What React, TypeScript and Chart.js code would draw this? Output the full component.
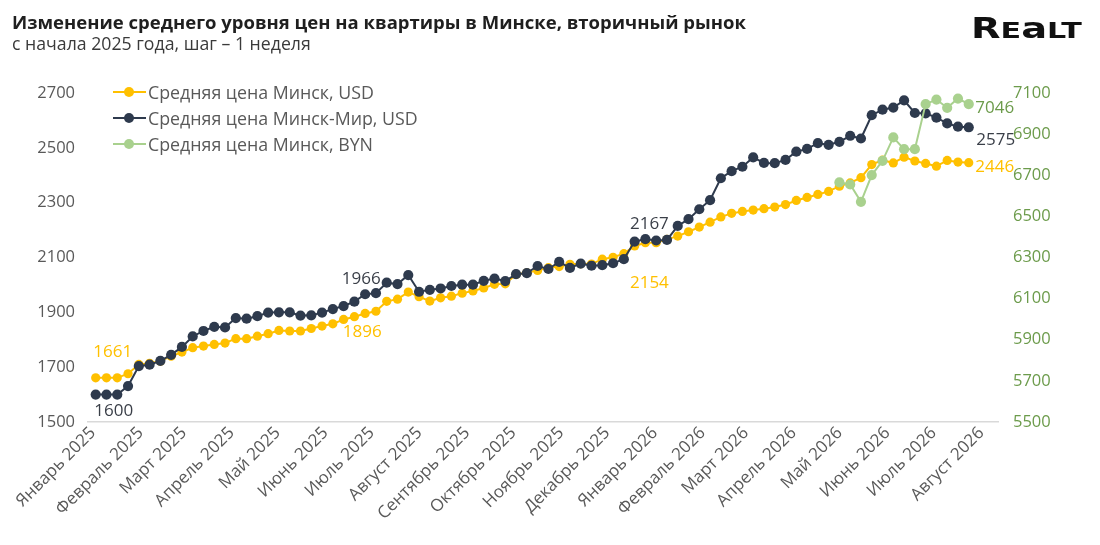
import { useEffect, useRef } from "react";
import { Chart, registerables } from "chart.js";

Chart.register(...registerables);

// Month captions on the date axis (first day of each month)
const MONTHS = [
  "Январь 2025", "Февраль 2025", "Март 2025", "Апрель 2025", "Май 2025", "Июнь 2025",
  "Июль 2025", "Август 2025", "Сентябрь 2025", "Октябрь 2025", "Ноябрь 2025", "Декабрь 2025",
  "Январь 2026", "Февраль 2026", "Март 2026", "Апрель 2026", "Май 2026", "Июнь 2026",
  "Июль 2026", "Август 2026",
];

// Weekly average price, Minsk, USD per m²
const USD_MINSK = [
  1661, 1661, 1661, 1676, 1710, 1714, 1722, 1740, 1755, 1771,
  1777, 1783, 1788, 1804, 1804, 1813, 1822, 1834, 1832, 1832,
  1841, 1850, 1858, 1874, 1884, 1896, 1904, 1940, 1948, 1974,
  1957, 1941, 1953, 1959, 1970, 1978, 1989, 2002, 2004, 2038,
  2044, 2053, 2063, 2067, 2075, 2077, 2076, 2094, 2101, 2114,
  2142, 2154, 2154, 2166, 2178, 2194, 2211, 2229, 2248, 2261,
  2268, 2273, 2278, 2284, 2293, 2308, 2319, 2330, 2341, 2360,
  2372, 2391, 2439, 2455, 2445, 2466, 2452, 2443, 2433, 2454,
  2448, 2446,
];

// Weekly average price, Minsk-Mir, USD per m²
const USD_MINSK_MIR = [
  1600, 1600, 1600, 1631, 1704, 1709, 1723, 1745, 1774, 1812,
  1832, 1847, 1845, 1879, 1877, 1886, 1899, 1900, 1900, 1888,
  1889, 1899, 1912, 1923, 1939, 1966, 1970, 2008, 2003, 2036,
  1975, 1982, 1987, 1996, 2001, 2001, 2015, 2023, 2014, 2039,
  2043, 2069, 2058, 2084, 2062, 2078, 2070, 2072, 2079, 2094,
  2158, 2167, 2162, 2164, 2215, 2240, 2276, 2309, 2389, 2415,
  2431, 2465, 2445, 2444, 2456, 2486, 2496, 2517, 2511, 2522,
  2544, 2534, 2619, 2639, 2647, 2673, 2627, 2626, 2610, 2589,
  2577, 2575,
];

// Weekly average price, Minsk, BYN per m² (published for the last weeks only)
const BYN_MINSK = [
  null, null, null, null, null, null, null, null, null, null,
  null, null, null, null, null, null, null, null, null, null,
  null, null, null, null, null, null, null, null, null, null,
  null, null, null, null, null, null, null, null, null, null,
  null, null, null, null, null, null, null, null, null, null,
  null, null, null, null, null, null, null, null, null, null,
  null, null, null, null, null, null, null, null, null, 6665,
  6655, 6571, 6701, 6770, 6884, 6827, 6827, 7046, 7068, 7028,
  7073, 7046,
];

const SERIES_NAMES = [
  "Средняя цена Минск, USD",
  "Средняя цена Минск-Мир, USD",
  "Средняя цена Минск, BYN",
];

const COLORS = ["#FFC000", "#2E3A4D", "#A9D18E"];
const LABEL_COLORS = ["#FFC000", "#3A3F48", "#6C9B4B"];
const FONT = '"Open Sans", "Noto Sans", sans-serif';
const AXIS_GRAY = "#595959";

export default function App() {
  const canvasRef = useRef<HTMLCanvasElement | null>(null);

  useEffect(() => {
    document.body.style.margin = "0";
    const canvas = canvasRef.current;
    if (!canvas) return;

    const DAY = 86400000;
    const origin = Date.UTC(2025, 0, 1);
    const firstWeek = Date.UTC(2025, 0, 6);
    const weekDay = (i: number) => (firstWeek - origin) / DAY + 7 * i;
    const monthDays = MONTHS.map((_, k) => (Date.UTC(2025, k, 1) - origin) / DAY);

    const toPoints = (arr: (number | null)[]) =>
      arr.map((v, i) => ({ x: weekDay(i), y: v }));

    const last = USD_MINSK.length - 1;
    // dataset index, point index, offset of the caption from the point
    const captions = [
      { ds: 0, idx: 0, dx: 17, dy: -26 },
      { ds: 1, idx: 0, dx: 18, dy: 17 },
      { ds: 0, idx: 25, dx: -3, dy: 19 },
      { ds: 1, idx: 25, dx: -4, dy: -15 },
      { ds: 0, idx: 51, dx: 4, dy: 40 },
      { ds: 1, idx: 51, dx: 4, dy: -15 },
      { ds: 0, idx: last, dx: 26, dy: 5 },
      { ds: 1, idx: last, dx: 27, dy: 13 },
      { ds: 2, idx: last, dx: 26, dy: 4 },
    ];

    const valueCaptions = {
      id: "valueCaptions",
      afterDatasetsDraw(chart: any) {
        const ctx = chart.ctx;
        ctx.save();
        ctx.font = `17px ${FONT}`;
        ctx.textAlign = "center";
        ctx.textBaseline = "middle";
        for (const c of captions) {
          const el = chart.getDatasetMeta(c.ds).data[c.idx];
          const v = (chart.data.datasets[c.ds].data[c.idx] as any).y;
          ctx.fillStyle = LABEL_COLORS[c.ds];
          ctx.fillText(String(v), el.x + c.dx, el.y + c.dy);
        }
        ctx.restore();
      },
    };

    const mk = (i: number, data: (number | null)[], axis: string, order: number, r: number) => ({
      label: SERIES_NAMES[i],
      data: toPoints(data),
      yAxisID: axis,
      borderColor: COLORS[i],
      backgroundColor: COLORS[i],
      pointBackgroundColor: COLORS[i],
      pointBorderWidth: 0,
      pointRadius: r,
      borderWidth: 2,
      order,
      clip: false as const,
      spanGaps: false,
    });

    const plain = (v: any) => String(v);

    const chart = new Chart(canvas, {
      type: "line",
      data: {
        datasets: [
          mk(0, USD_MINSK, "y", 2, 4.6),
          mk(1, USD_MINSK_MIR, "y", 1, 5.1),
          mk(2, BYN_MINSK, "y1", 0, 5.1),
        ],
      },
      options: {
        animation: false,
        responsive: false,
        layout: { padding: { top: 93, left: 0, right: 0, bottom: 0 } },
        plugins: { legend: { display: false }, tooltip: { enabled: false } },
        scales: {
          x: {
            type: "linear",
            min: 0,
            max: 591,
            afterBuildTicks: (s: any) => {
              s.ticks = monthDays.map((v) => ({ value: v }));
            },
            afterFit: (s: any) => {
              s.height = 123;
            },
            grid: { display: false, drawTicks: false },
            border: { display: true, color: "#D9D9D9", width: 1.5 },
            ticks: {
              autoSkip: false,
              maxRotation: 45,
              minRotation: 45,
              padding: 1,
              labelOffset: 5,
              color: AXIS_GRAY,
              font: { family: FONT, size: 17 },
              callback: (_v: any, i: number) => MONTHS[i],
            },
          },
          y: {
            position: "left",
            min: 1500,
            max: 2700,
            afterFit: (s: any) => {
              s.width = 88;
            },
            grid: { display: false, drawTicks: false },
            border: { display: false },
            ticks: {
              stepSize: 200,
              padding: 13,
              color: AXIS_GRAY,
              font: { family: FONT, size: 16.5 },
              callback: plain,
            },
          },
          y1: {
            position: "right",
            min: 5500,
            max: 7100,
            afterFit: (s: any) => {
              s.width = 102;
            },
            grid: { display: false, drawTicks: false },
            border: { display: false },
            ticks: {
              stepSize: 200,
              padding: 15,
              color: "#6C9B4B",
              font: { family: FONT, size: 16.5 },
              callback: plain,
            },
          },
        },
      },
      plugins: [valueCaptions],
    });

    return () => chart.destroy();
  }, []);

  const legendRows = SERIES_NAMES.map((name, i) => (
    <div
      key={name}
      style={{ position: "absolute", left: 113, top: 81 + i * 26, height: 22, display: "flex", alignItems: "center" }}
    >
      <div style={{ position: "relative", width: 33, height: 22 }}>
        <div style={{ position: "absolute", left: 0, top: 10, width: 33, height: 2, background: COLORS[i] }} />
        <div
          style={{
            position: "absolute", left: 11, top: 6, width: 10, height: 10,
            borderRadius: "50%", background: COLORS[i],
          }}
        />
      </div>
      <span style={{ marginLeft: 2, font: `17.8px ${FONT}`, color: AXIS_GRAY, whiteSpace: "nowrap" }}>{name}</span>
    </div>
  ));

  return (
    <div style={{ position: "relative", width: 1100, height: 545, background: "#fff", overflow: "hidden" }}>
      <canvas ref={canvasRef} width={1100} height={545} style={{ position: "absolute", left: 0, top: 0 }} />
      <div
        style={{
          position: "absolute", left: 12, top: 12, font: `bold 18.5px ${FONT}`,
          lineHeight: "19px", color: "#1F1F1F", whiteSpace: "nowrap",
        }}
      >
        Изменение среднего уровня цен на квартиры в Минске, вторичный рынок
      </div>
      <div
        style={{
          position: "absolute", left: 12, top: 35, font: `17.7px ${FONT}`,
          lineHeight: "17px", color: "#3A3A3A", whiteSpace: "nowrap",
        }}
      >
        с начала 2025 года, шаг – 1 неделя
      </div>
      <div
        style={{
          position: "absolute", left: 971, top: 12, height: 32, display: "flex", alignItems: "baseline",
          fontFamily: '"DejaVu Sans", sans-serif', fontWeight: 900, color: "#111",
          transform: "scaleX(1.37)", transformOrigin: "left",
        }}
      >
        <span style={{ fontSize: 28 }}>R</span>
        <span style={{ fontSize: 22 }}>E</span>
        <span style={{ fontSize: 28 }}>a</span>
        <span style={{ fontSize: 22 }}>LT</span>
      </div>
      {legendRows}
    </div>
  );
}
